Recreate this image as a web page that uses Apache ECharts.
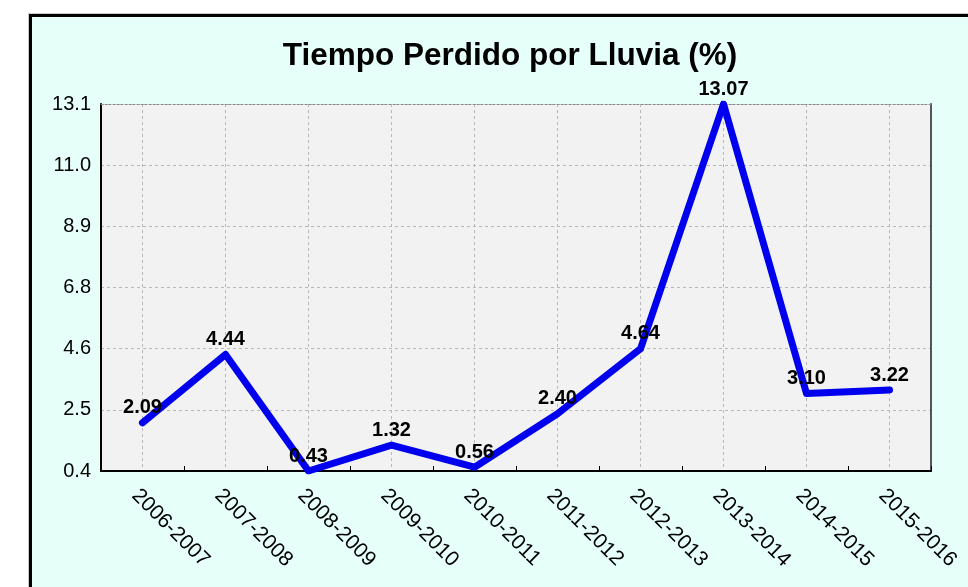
<!DOCTYPE html>
<html>
<head>
<meta charset="utf-8">
<script src="https://cdn.jsdelivr.net/npm/echarts@6/dist/echarts.min.js"></script>
<style>
  html, body { margin: 0; padding: 0; background: #ffffff; width: 968px; height: 587px; overflow: hidden; }
  #frame { position: absolute; left: 29px; top: 14px; width: 1000px; height: 1000px;
           border: 3px solid #000; background: #e6fff9; box-shadow: -1px -1px 0 #c8c8c8; }
  #chart { position: absolute; left: 0; top: 0; width: 968px; height: 587px; }
</style>
</head>
<body>
<div id="frame"></div>
<div id="chart"></div>
<script>
const titleText = 'Tiempo Perdido por Lluvia (%)';
const categories = ['2006-2007','2007-2008','2008-2009','2009-2010','2010-2011','2011-2012','2012-2013','2013-2014','2014-2015','2015-2016'];
const values = [2.09, 4.44, 0.43, 1.32, 0.56, 2.40, 4.64, 13.07, 3.10, 3.22];
const yMin = 0.43;
const yMax = 13.07;
const yTickLabels = ['0.4','2.5','4.6','6.8','8.9','11.0','13.1'];

const FONT = '"Liberation Sans", Arial, sans-serif';
const chart = echarts.init(document.getElementById('chart'), null, { renderer: 'canvas' });
const gridColor = '#b8b8b8';

chart.setOption({
  backgroundColor: 'transparent',
  animation: false,
  title: {
    text: titleText,
    left: 505,
    top: 35,
    textAlign: 'center',
    textStyle: { fontFamily: FONT, fontSize: 31.5, fontWeight: 'bold', color: '#000' }
  },
  grid: {
    left: 101, top: 104, right: 37, bottom: 116,
    show: true, backgroundColor: '#f2f2f2', borderWidth: 0
  },
  xAxis: [
    {
      type: 'category',
      data: categories,
      boundaryGap: true,
      position: 'bottom',
      axisLine: { show: true, onZero: false, lineStyle: { color: '#000', width: 2 } },
      axisTick: { show: true, inside: true, length: 5, lineStyle: { color: '#000', width: 1 } },
      splitLine: { show: false },
      axisLabel: {
        rotate: -45, margin: 14, interval: 0, verticalAlign: 'top',
        fontFamily: FONT, fontSize: 21, color: '#000'
      }
    },
    {
      type: 'category',
      data: categories,
      boundaryGap: true,
      position: 'top',
      axisLine: { show: true, onZero: false, lineStyle: { color: '#888', width: 1, type: [2, 2] } },
      axisTick: { show: false, alignWithLabel: true },
      axisLabel: { show: false },
      splitLine: { show: true, alignWithLabel: true, interval: 0, lineStyle: { color: gridColor, width: 1, type: [3, 3] } }
    }
  ],
  yAxis: [
    {
      type: 'value',
      min: yMin,
      max: yMax,
      position: 'right',
      axisLine: { show: true, onZero: false, lineStyle: { color: '#555', width: 2 } },
      axisTick: { show: false },
      axisLabel: { show: false },
      splitLine: { show: false }
    },
    {
      type: 'value',
      min: 0,
      max: yTickLabels.length - 1,
      interval: 1,
      position: 'left',
      axisLine: { show: true, onZero: false, lineStyle: { color: '#000', width: 2 } },
      axisTick: { show: false },
      axisLabel: {
        margin: 10, fontFamily: FONT, fontSize: 20, color: '#000',
        formatter: function (v) { return yTickLabels[Math.round(v)] || ''; }
      },
      splitLine: { show: true, lineStyle: { color: gridColor, width: 1, type: [3, 3] } }
    }
  ],
  series: [
    {
      type: 'line',
      xAxisIndex: 0,
      yAxisIndex: 0,
      data: values,
      symbol: 'circle',
      symbolSize: 6,
      itemStyle: { color: '#0000ee' },
      lineStyle: { color: '#0000ee', width: 7, cap: 'round', join: 'round' },
      label: {
        show: true, position: 'top', distance: 2,
        fontFamily: FONT, fontSize: 20, fontWeight: 'bold', color: '#000',
        formatter: function (p) { return p.value.toFixed(2); }
      },
      z: 5
    }
  ]
});
</script>
</body>
</html>
